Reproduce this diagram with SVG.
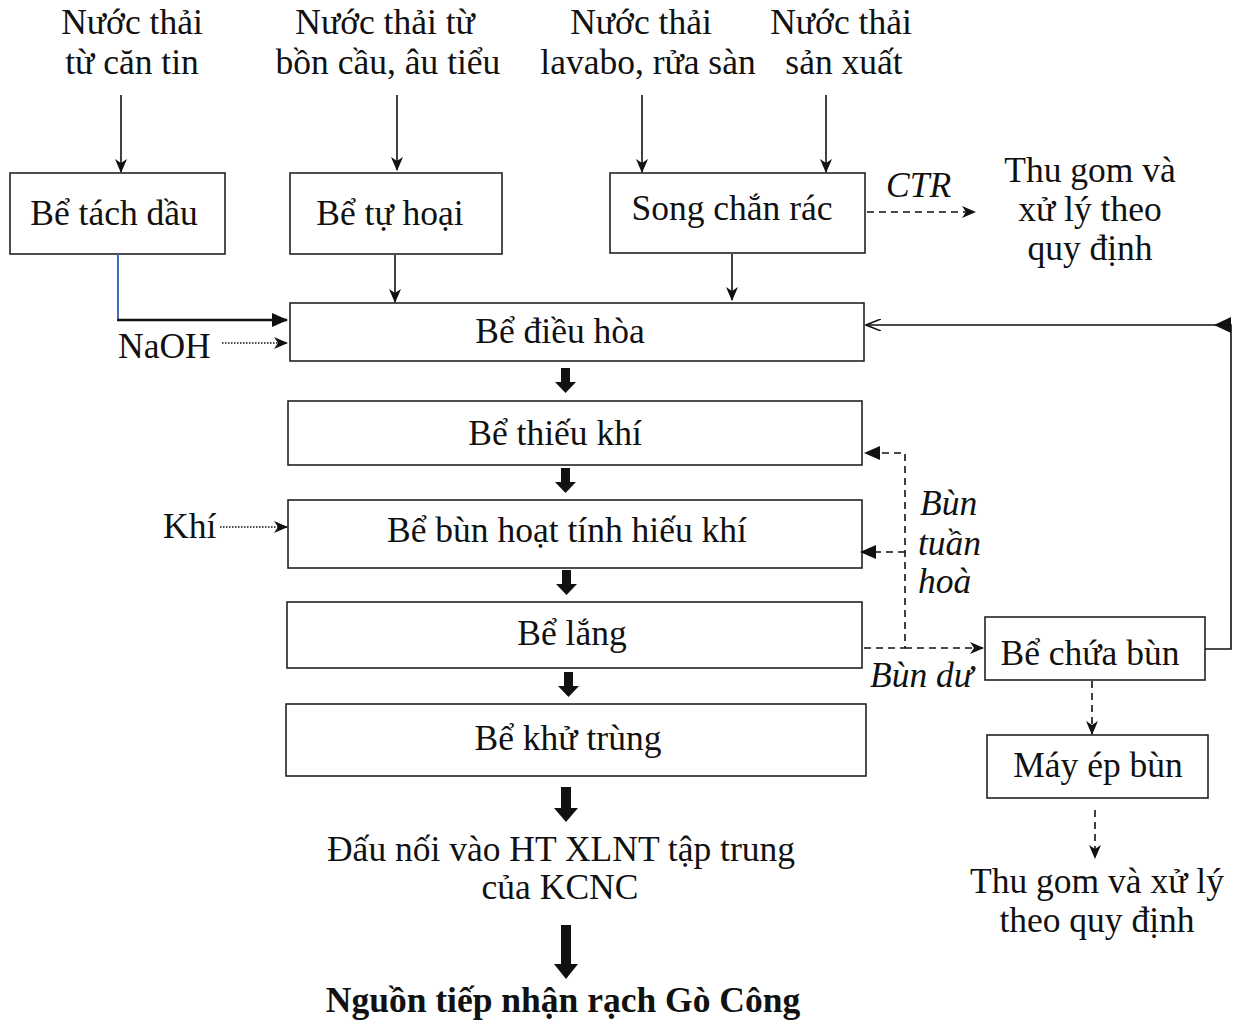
<svg xmlns="http://www.w3.org/2000/svg" width="1238" height="1021" viewBox="0 0 1238 1021">
  <style>
    text { font-family: "Liberation Serif", "Times New Roman", serif; font-size: 35.5px; fill: #111; }
    .c { text-anchor: middle; }
    .i { font-style: italic; }
    .b { font-weight: bold; }
    .box { fill: #fff; stroke: #222; stroke-width: 1.6; }
    .ln { fill: none; stroke: #111; stroke-width: 1.6; }
    .dash { fill: none; stroke: #111; stroke-width: 1.6; stroke-dasharray: 7 5; }
    .dot { fill: none; stroke: #111; stroke-width: 1.4; stroke-dasharray: 1.5 1.5; }
    .blk { fill: #111; }
  </style>
  <defs>
    <marker id="stealth" viewBox="0 0 14 12" refX="13" refY="6" markerWidth="14" markerHeight="12" markerUnits="userSpaceOnUse" orient="auto">
      <path d="M0,0 L14,6 L0,12 L4,6 z" fill="#111"/>
    </marker>
    <marker id="tri" viewBox="0 0 16 14" refX="15" refY="7" markerWidth="16" markerHeight="14" markerUnits="userSpaceOnUse" orient="auto">
      <path d="M0,0 L16,7 L0,14 z" fill="#111"/>
    </marker>
    <marker id="open" viewBox="0 0 16 12" refX="15" refY="6" markerWidth="16" markerHeight="12" markerUnits="userSpaceOnUse" orient="auto">
      <path d="M0,0 L15,6 L0,12" fill="none" stroke="#111" stroke-width="1.6"/>
    </marker>
  </defs>

  <!-- source labels -->
  <g id="src-cantin">
    <text class="c" x="132" y="34">Nước thải</text>
    <text class="c" x="132" y="74">từ căn tin</text>
  </g>
  <g id="src-boncau">
    <text class="c" x="385" y="34">Nước thải từ</text>
    <text class="c" x="388" y="74">bồn cầu, âu tiểu</text>
  </g>
  <g id="src-lavabo">
    <text class="c" x="641" y="34">Nước thải</text>
    <text class="c" x="648" y="74">lavabo, rửa sàn</text>
  </g>
  <g id="src-sanxuat">
    <text class="c" x="841" y="34">Nước thải</text>
    <text class="c" x="844" y="74">sản xuất</text>
  </g>

  <!-- first-stage tanks -->
  <g id="be-tach-dau">
    <rect class="box" x="10" y="173" width="215" height="81"/>
    <text class="c" x="114" y="225">Bể tách dầu</text>
  </g>
  <g id="be-tu-hoai">
    <rect class="box" x="290" y="173" width="212" height="81"/>
    <text class="c" x="390" y="225">Bể tự hoại</text>
  </g>
  <g id="song-chan-rac">
    <rect class="box" x="610" y="173" width="255" height="80" stroke-width="2.2"/>
    <text class="c" x="732" y="220">Song chắn rác</text>
  </g>
  <g id="thu-gom-ctr">
    <text class="c" x="1090" y="182">Thu gom và</text>
    <text class="c" x="1090" y="221">xử lý theo</text>
    <text class="c" x="1090" y="260">quy định</text>
  </g>

  <!-- main treatment line -->
  <g id="be-dieu-hoa">
    <rect class="box" x="290" y="303" width="574" height="58"/>
    <text class="c" x="560" y="343">Bể điều hòa</text>
  </g>
  <g id="naoh">
    <text x="118" y="358">NaOH</text>
  </g>
  <g id="be-thieu-khi">
    <rect class="box" x="288" y="401" width="574" height="64"/>
    <text class="c" x="555" y="445">Bể thiếu khí</text>
  </g>
  <g id="khi">
    <text x="163" y="538">Khí</text>
  </g>
  <g id="be-hieu-khi">
    <rect class="box" x="288" y="500" width="574" height="68"/>
    <text class="c" x="567" y="542">Bể bùn hoạt tính hiếu khí</text>
  </g>
  <g id="be-lang">
    <rect class="box" x="287" y="602" width="575" height="66"/>
    <text class="c" x="572" y="645">Bể lắng</text>
  </g>
  <g id="be-khu-trung">
    <rect class="box" x="286" y="704" width="580" height="72"/>
    <text class="c" x="568" y="750">Bể khử trùng</text>
  </g>
  <g id="dau-noi">
    <text class="c" x="561" y="861">Đấu nối vào HT XLNT tập trung</text>
    <text class="c" x="560" y="899">của KCNC</text>
  </g>
  <g id="nguon-tiep-nhan">
    <text class="c b" x="563" y="1012">Nguồn tiếp nhận rạch Gò Công</text>
  </g>

  <!-- sludge line -->
  <g id="be-chua-bun">
    <rect class="box" x="985" y="617" width="220" height="63"/>
    <text class="c" x="1090" y="665">Bể chứa bùn</text>
  </g>
  <g id="may-ep-bun">
    <rect class="box" x="987" y="735" width="221" height="63"/>
    <text class="c" x="1098" y="777">Máy ép bùn</text>
  </g>
  <g id="thu-gom-bun">
    <text class="c" x="1097" y="893">Thu gom và xử lý</text>
    <text class="c" x="1097" y="932">theo quy định</text>
  </g>

  <!-- connector labels -->
  <g id="labels">
    <text class="i" x="886" y="197">CTR</text>
    <text class="i" x="920" y="515">Bùn</text>
    <text class="i" x="918" y="555">tuần</text>
    <text class="i" x="918" y="593">hoà</text>
    <text class="i" x="870" y="687">Bùn dư</text>
  </g>

  <g id="connectors">
    <!-- inflows -->
    <line class="ln" x1="121" y1="95" x2="121" y2="172" marker-end="url(#stealth)"/>
    <line class="ln" x1="397" y1="95" x2="397" y2="170" marker-end="url(#stealth)"/>
    <line class="ln" x1="642" y1="95" x2="642" y2="172" marker-end="url(#stealth)"/>
    <line class="ln" x1="826" y1="95" x2="826" y2="172" marker-end="url(#stealth)"/>
    <line class="ln" x1="395" y1="255" x2="395" y2="302" marker-end="url(#stealth)"/>
    <line class="ln" x1="732" y1="254" x2="732" y2="300" marker-end="url(#stealth)"/>

    <!-- oil separator outlet -->
    <line x1="118" y1="254" x2="118" y2="320" stroke="#3f6fb5" stroke-width="2"/>
    <line x1="117" y1="320" x2="287" y2="320" stroke="#111" stroke-width="2.4" marker-end="url(#tri)"/>

    <!-- dosing -->
    <line class="dot" x1="222" y1="343" x2="287" y2="343" marker-end="url(#stealth)"/>
    <line class="dot" x1="220" y1="527" x2="287" y2="527" marker-end="url(#stealth)"/>

    <!-- solid waste -->
    <line class="dash" x1="867" y1="212" x2="975" y2="212" marker-end="url(#stealth)"/>

    <!-- main flow block arrows -->
    <path class="blk" d="M561,368 h9 v14 h6 l-10.5,11 l-10.5,-11 h6 z"/>
    <path class="blk" d="M561,468 h9 v14 h6 l-10.5,11 l-10.5,-11 h6 z"/>
    <path class="blk" d="M562,570 h9 v14 h6 l-10.5,11 l-10.5,-11 h6 z"/>
    <path class="blk" d="M564,672 h9 v14 h6 l-10.5,11 l-10.5,-11 h6 z"/>
    <path class="blk" d="M561,787 h10 v21 h7 l-12,14 l-12,-14 h7 z"/>
    <path class="blk" d="M561,925 h10 v39 h7 l-12,15 l-12,-15 h7 z"/>

    <!-- sludge recirculation -->
    <polyline class="dash" points="864,648 905,648 905,453 878,453"/>
    <path d="M864,453 L880,446 L880,460 z" fill="#111"/>
    <line class="dash" x1="905" y1="552" x2="874" y2="552"/>
    <path d="M860,552 L876,545 L876,559 z" fill="#111"/>
    <line class="dash" x1="905" y1="648" x2="983" y2="648" marker-end="url(#stealth)"/>

    <!-- thickener return -->
    <polyline class="ln" points="1205,649 1231,649 1231,325 866,325" marker-end="url(#open)"/>
    <path d="M1214,325 L1231,317 L1231,333 z" fill="#111"/>

    <!-- sludge dewatering -->
    <line class="dash" x1="1092" y1="681" x2="1092" y2="734" marker-end="url(#stealth)"/>
    <line class="dash" x1="1095" y1="810" x2="1095" y2="858" marker-end="url(#stealth)"/>
  </g>
</svg>
